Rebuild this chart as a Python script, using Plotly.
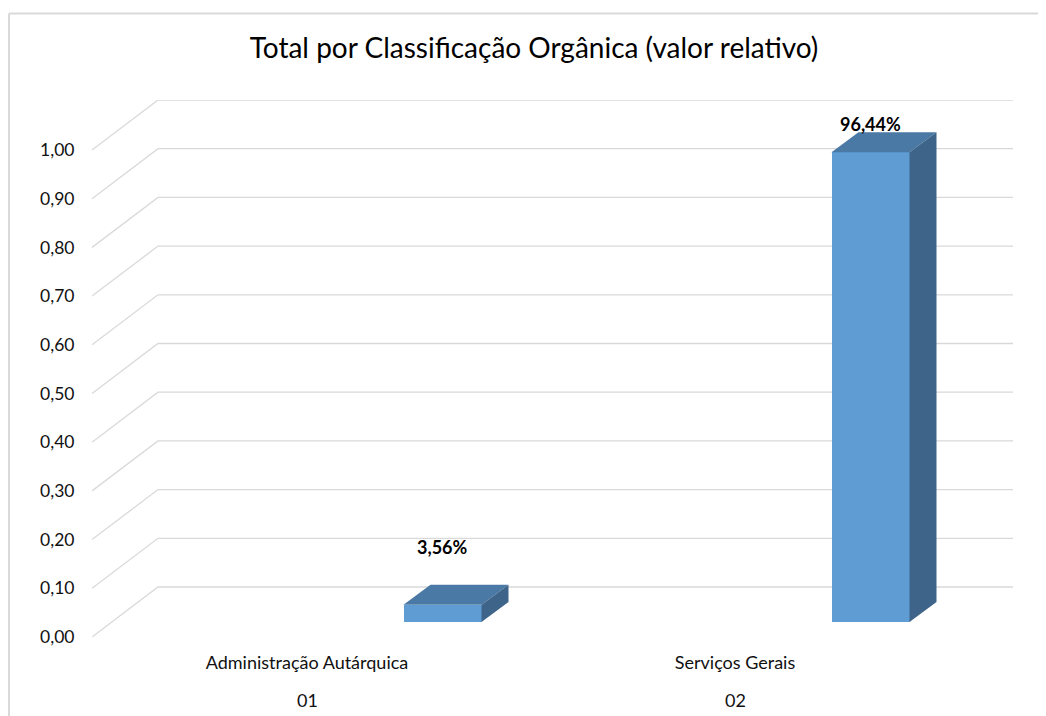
import plotly.graph_objects as go

# ---------------- data ----------------
categories = ["Administração Autárquica", "Serviços Gerais"]
codes = ["01", "02"]
values = [0.0356, 0.9644]
y_ticks = [0.0, 0.1, 0.2, 0.3, 0.4, 0.5, 0.6, 0.7, 0.8, 0.9, 1.0]
title_text = "Total por Classificação Orgânica (valor relativo)"

# ---------------- geometry / style ----------------
OFF = 8                                    # page body margin of the html page
W, H = 1046 - OFF, 716 - OFF
PL, PR, PT, PB = 92 - OFF, 1013 - OFF, 100 - OFF, 637 - OFF   # plot area (figure px)
PX_X = 428.0                               # pixels per category step
PX_Y = 487.0                               # pixels per 1.0 value
CAT0_PX = 307 - OFF                        # pixel of first category label

x_lo = -(CAT0_PX - PL) / PX_X
x_hi = x_lo + (PR - PL) / PX_X
y_hi = (PB - PT) / PX_Y

wall_dx = 66 / PX_X
wall_dy = 50 / PX_Y
bar_shift = 135.5 / PX_X
bar_w = 78 / PX_X
bar_dx = 27 / PX_X
bar_dy = 20 / PX_Y
bar_base = 15 / PX_Y

FRONT = "#5e9cd3"
TOP = "#4a79a5"
SIDE = "#3e6589"
GRID = "#d9d9d9"
FONT = "Lato"
TXT = "#111111"

fig = go.Figure()

# gridlines: side-wall diagonal + back-wall horizontal (drawn below traces)
for t in y_ticks:
    fig.add_shape(
        type="path", xref="x", yref="y", layer="below",
        path=f"M {x_lo},{t} L {x_lo + wall_dx},{t + wall_dy} L {x_hi},{t + wall_dy}",
        line=dict(color=GRID, width=1.3))

xc = [i + bar_shift for i in range(len(values))]

# front faces
fig.add_trace(go.Bar(
    x=xc, y=values, base=[bar_base] * len(values), width=bar_w,
    marker=dict(color=FRONT, line=dict(width=0)),
    showlegend=False, hoverinfo="skip"))

# top and side faces
for c, v in zip(xc, values):
    l, r = c - bar_w / 2, c + bar_w / 2
    top = bar_base + v
    fig.add_trace(go.Scatter(
        x=[l, r, r + bar_dx, l + bar_dx, l],
        y=[top, top, top + bar_dy, top + bar_dy, top],
        mode="lines", fill="toself", fillcolor=TOP,
        line=dict(width=0, color=TOP), hoverinfo="skip", showlegend=False))
    fig.add_trace(go.Scatter(
        x=[r, r + bar_dx, r + bar_dx, r, r],
        y=[bar_base, bar_base + bar_dy, top + bar_dy, top, bar_base],
        mode="lines", fill="toself", fillcolor=SIDE,
        line=dict(width=0, color=SIDE), hoverinfo="skip", showlegend=False))

# data labels
label_cap = (PB - (124 - OFF)) / PX_Y
for c, v in zip(xc, values):
    ly = min(bar_base + v + 0.118, label_cap)
    fig.add_annotation(
        x=c, y=ly, xref="x", yref="y", showarrow=False,
        text="<b>" + f"{v*100:.2f}".replace(".", ",") + "%</b>",
        font=dict(family=FONT, size=18, color="#000000"))

# second row of category labels (codes)
pw = (PR - PL)
ph = (PB - PT)
def px2paper_x(px):
    return (px - PL) / pw
def px2paper_y(py):
    return (PB - py) / ph
for i, code in enumerate(codes):
    fig.add_annotation(
        x=i, y=px2paper_y(700 - OFF), xref="x", yref="paper",
        showarrow=False, yanchor="middle", text=code,
        font=dict(family=FONT, size=18, color=TXT))

# outer chart border (top + left)
fig.add_shape(type="line", xref="paper", yref="paper",
              x0=px2paper_x(9 - OFF), x1=px2paper_x(W + 5),
              y0=px2paper_y(13.5 - OFF), y1=px2paper_y(13.5 - OFF),
              line=dict(color=GRID, width=2))
fig.add_shape(type="line", xref="paper", yref="paper",
              x0=px2paper_x(9 - OFF), x1=px2paper_x(9 - OFF),
              y0=px2paper_y(13.5 - OFF), y1=px2paper_y(H + 5),
              line=dict(color=GRID, width=2))

fig.update_layout(
    width=W, height=H,
    margin=dict(l=PL, r=W - PR, t=PT, b=H - PB, pad=0),
    paper_bgcolor="white", plot_bgcolor="white",
    separators=",.",
    font=dict(family=FONT, color=TXT),
    title=dict(text=title_text, x=(534 - OFF) / W, xanchor="center",
               y=1 - (48 - OFF) / H, yanchor="middle",
               font=dict(family=FONT, size=28, color="#000000")),
    xaxis=dict(range=[x_lo, x_hi], tickmode="array",
               tickvals=list(range(len(categories))),
               ticktext=categories,
               showgrid=False, zeroline=False, showline=False,
               ticks="outside", ticklen=9, tickcolor="rgba(0,0,0,0)",
               tickfont=dict(family=FONT, size=18, color=TXT),
               fixedrange=True),
    yaxis=dict(range=[0, y_hi], tickmode="array", tickvals=y_ticks,
               tickformat=".2f", showgrid=False, zeroline=False,
               showline=False, ticks="outside", ticklen=13,
               tickcolor="rgba(0,0,0,0)",
               tickfont=dict(family=FONT, size=17.5, color=TXT),
               fixedrange=True),
    bargap=0,
)

fig.write_html("out.html")
